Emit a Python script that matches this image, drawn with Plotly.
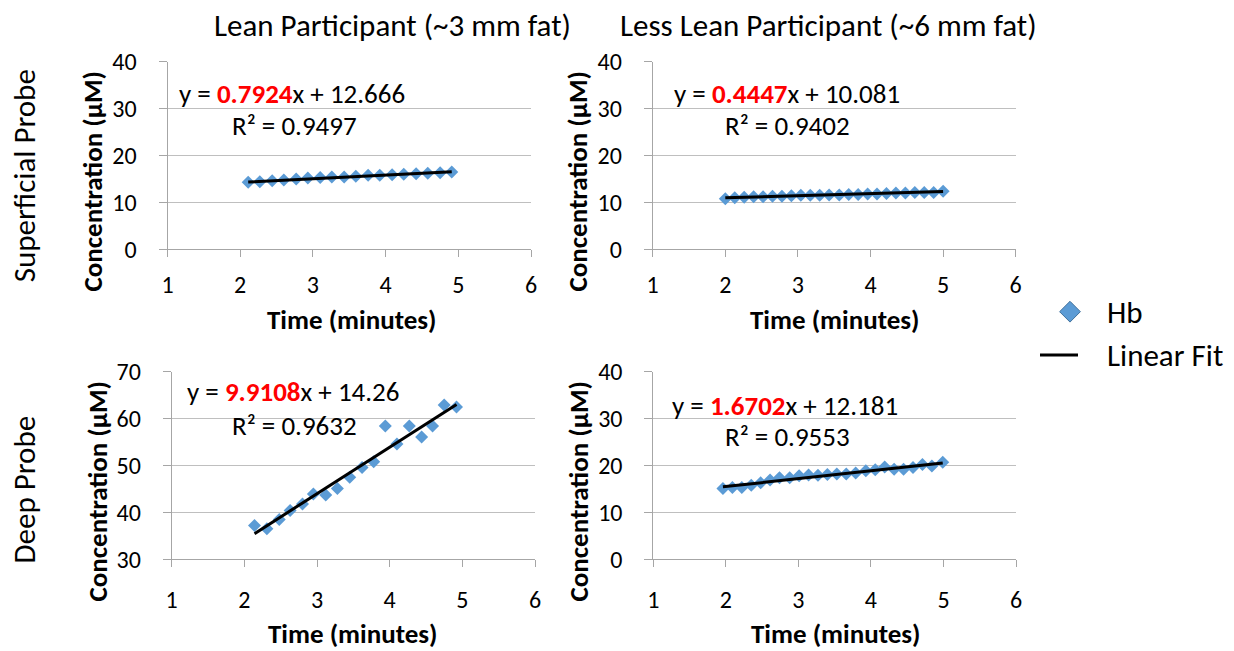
import plotly.graph_objects as go

W, H = 1234, 651
FONT = "Carlito, Lato, sans-serif"

# ---------------- data ----------------
# Lean participant, superficial probe
tl_x = [2.11, 2.27, 2.44, 2.60, 2.77, 2.93, 3.10, 3.26, 3.43, 3.59, 3.76, 3.92, 4.09, 4.25, 4.42, 4.58, 4.75, 4.91]
tl_y = [14.3, 14.4, 14.6, 14.8, 15.0, 15.2, 15.3, 15.4, 15.4, 15.6, 15.8, 15.8, 15.9, 16.0, 16.1, 16.2, 16.3, 16.5]
# Less lean participant, superficial probe
tr_x = [2.00, 2.13, 2.26, 2.39, 2.52, 2.65, 2.78, 2.91, 3.04, 3.17, 3.30, 3.43,
        3.57, 3.70, 3.83, 3.96, 4.09, 4.22, 4.35, 4.48, 4.61, 4.74, 4.87, 5.00]
tr_y = [10.8, 11.0, 11.1, 11.2, 11.2, 11.3, 11.3, 11.4, 11.5, 11.5, 11.5, 11.6,
        11.6, 11.7, 11.7, 11.8, 11.8, 11.9, 12.0, 12.0, 12.1, 12.1, 12.1, 12.4]
# Lean participant, deep probe
bl_x = [2.14, 2.31, 2.48, 2.63, 2.80, 2.95, 3.12, 3.28, 3.45, 3.62, 3.78, 3.94, 4.10, 4.27, 4.44, 4.59, 4.75, 4.92]
bl_y = [37.2, 36.5, 38.5, 40.4, 41.8, 43.9, 43.7, 45.1, 47.5, 49.6, 50.8, 58.4, 54.6, 58.4, 56.1, 58.4, 62.9, 62.5]
# Less lean participant, deep probe
br_x = [1.96, 2.09, 2.22, 2.35, 2.48, 2.61, 2.74, 2.88, 3.01, 3.14, 3.27, 3.40,
        3.53, 3.66, 3.79, 3.93, 4.06, 4.19, 4.32, 4.45, 4.58, 4.71, 4.84, 4.99]
br_y = [15.1, 15.3, 15.3, 15.8, 16.3, 16.9, 17.4, 17.4, 17.8, 18.0, 17.9, 18.1,
        18.2, 18.2, 18.4, 18.9, 19.1, 19.7, 19.2, 19.2, 19.6, 20.2, 19.9, 20.7]

slopes = [0.7924, 0.4447, 9.9108, 1.6702]
intercepts = [12.666, 10.081, 14.26, 12.181]
r_squared = [0.9497, 0.9402, 0.9632, 0.9553]

col_titles = ["Lean Participant (~3 mm fat)", "Less Lean Participant (~6 mm fat)"]
row_titles = ["Superficial Probe", "Deep Probe"]
x_title = "Time (minutes)"
y_title = "Concentration (μM)"
y_ranges = [[0, 40], [0, 40], [30, 70], [0, 40]]
series_names = ["Hb", "Linear Fit"]

# ---------------- layout helpers ----------------
def px(x):
    return x / W

def py(y):
    return 1 - y / H

# plot area boxes in pixels (left, right, top, bottom)
boxes = [
    (167.5, 531.0, 61.7, 249.3),
    (652.7, 1015.7, 61.7, 249.3),
    (171.7, 535.0, 371.7, 559.3),
    (653.3, 1016.0, 371.7, 559.3),
]

fig = go.Figure()
data = [(tl_x, tl_y), (tr_x, tr_y), (bl_x, bl_y), (br_x, br_y)]
GRAY = "#A6A6A6"
GRID = "#BFBFBF"
BLUE = "#5B9BD5"

layout = dict(
    width=W, height=H,
    margin=dict(l=0, r=0, t=0, b=0, pad=0, autoexpand=False),
    paper_bgcolor="white", plot_bgcolor="white",
    showlegend=False,
    font=dict(family=FONT, color="black"),
)

annotations = []
for i, ((xs, ys), (l, r, t, b)) in enumerate(zip(data, boxes)):
    n = "" if i == 0 else str(i + 1)
    xa, ya = "x" + n, "y" + n
    fig.add_trace(go.Scatter(
        x=xs, y=ys, mode="markers", xaxis=xa, yaxis=ya, name=series_names[0],
        marker=dict(symbol="diamond", size=10, color=BLUE, line=dict(width=0)),
    ))
    x0, x1 = min(xs), max(xs)
    fig.add_trace(go.Scatter(
        x=[x0, x1], y=[slopes[i] * x0 + intercepts[i], slopes[i] * x1 + intercepts[i]],
        mode="lines", xaxis=xa, yaxis=ya, name=series_names[1],
        line=dict(color="black", width=3),
    ))
    bottom_row = i >= 2
    layout["xaxis" + n] = dict(
        domain=[px(l), px(r)], anchor=ya, range=[1, 6], tick0=1, dtick=1,
        showgrid=False, zeroline=False, showline=True, linecolor=GRAY, linewidth=1,
        ticks="outside", ticklen=7, tickcolor=GRAY,
        tickfont=dict(size=24, family=FONT, color="black"),
        ticklabelstandoff=12 if bottom_row else 7,
        automargin=False, fixedrange=True,
    )
    layout["yaxis" + n] = dict(
        domain=[py(b), py(t)], anchor=xa, range=y_ranges[i], dtick=10,
        showgrid=True, gridcolor=GRID, gridwidth=1, zeroline=False,
        showline=True, linecolor=GRAY, linewidth=1,
        ticks="outside", ticklen=8, tickcolor=GRAY,
        tickfont=dict(size=24, family=FONT, color="black"),
        ticklabelstandoff=17,
        automargin=False, fixedrange=True,
    )

# equations
eq_pos = [((176.7, 93.3), (230, 125)), ((671.7, 93.3), (723.3, 125)),
          ((185, 391.7), (230, 425)), ((670, 405), (723.3, 436.7))]
for i, ((ex, ey), (rx, ry)) in enumerate(eq_pos):
    annotations.append(dict(
        x=px(ex), y=py(ey), xref="paper", yref="paper", xanchor="left", yanchor="middle",
        text=f"y = <b><span style='color:#FF0000'>{slopes[i]}</span></b>x + {intercepts[i]}",
        showarrow=False, font=dict(size=27, family=FONT, color="black"),
    ))
    annotations.append(dict(
        x=px(rx), y=py(ry), xref="paper", yref="paper", xanchor="left", yanchor="middle",
        text=f"R² = {r_squared[i]}",
        showarrow=False, font=dict(size=27, family=FONT, color="black"),
    ))

# axis titles
for (cx, cy) in [(351.7, 320), (834, 320), (352.5, 633), (835, 633)]:
    annotations.append(dict(x=px(cx), y=py(cy), xref="paper", yref="paper",
                            xanchor="center", yanchor="middle", text=f"<b>{x_title}</b>",
                            showarrow=False, font=dict(size=27, family=FONT, color="black")))
for (cx, cy) in [(92, 181.5), (577, 181.5), (97, 491.5), (578, 491.5)]:
    annotations.append(dict(x=px(cx), y=py(cy), xref="paper", yref="paper",
                            xanchor="center", yanchor="middle", text=f"<b>{y_title}</b>",
                            textangle=-90, showarrow=False,
                            font=dict(size=27, family=FONT, color="black")))

# column and row titles
for t, cx in zip(col_titles, [392.5, 829]):
    annotations.append(dict(x=px(cx), y=py(25), xref="paper", yref="paper",
                            xanchor="center", yanchor="middle", text=t, showarrow=False,
                            font=dict(size=31, family=FONT, color="black")))
for t, cy in zip(row_titles, [175.7, 490]):
    annotations.append(dict(x=px(23.5), y=py(cy), xref="paper", yref="paper",
                            xanchor="center", yanchor="middle", text=t, textangle=-90,
                            showarrow=False, font=dict(size=31, family=FONT, color="black")))

# manual legend on a hidden pixel-scaled axis
fig.add_trace(go.Scatter(x=[1070], y=[311.7], mode="markers", xaxis="x5", yaxis="y5",
                         marker=dict(symbol="diamond", size=16, color=BLUE,
                                     line=dict(width=1, color="#41719C")),
                         hoverinfo="skip"))
fig.add_trace(go.Scatter(x=[1040, 1078], y=[355, 355], mode="lines", xaxis="x5", yaxis="y5",
                         line=dict(color="black", width=3), hoverinfo="skip"))
layout["xaxis5"] = dict(domain=[px(1030), px(1100)], range=[1030, 1100], visible=False,
                        anchor="y5", fixedrange=True, automargin=False)
layout["yaxis5"] = dict(domain=[py(380), py(290)], range=[380, 290], visible=False,
                        anchor="x5", fixedrange=True, automargin=False)
for t, cy in zip(series_names, [311.7, 355]):
    annotations.append(dict(x=px(1105), y=py(cy), xref="paper", yref="paper",
                            xanchor="left", yanchor="middle", text=t, showarrow=False,
                            font=dict(size=31, family=FONT, color="black")))

layout["annotations"] = annotations
fig.update_layout(**layout)
fig.write_html("out.html")
